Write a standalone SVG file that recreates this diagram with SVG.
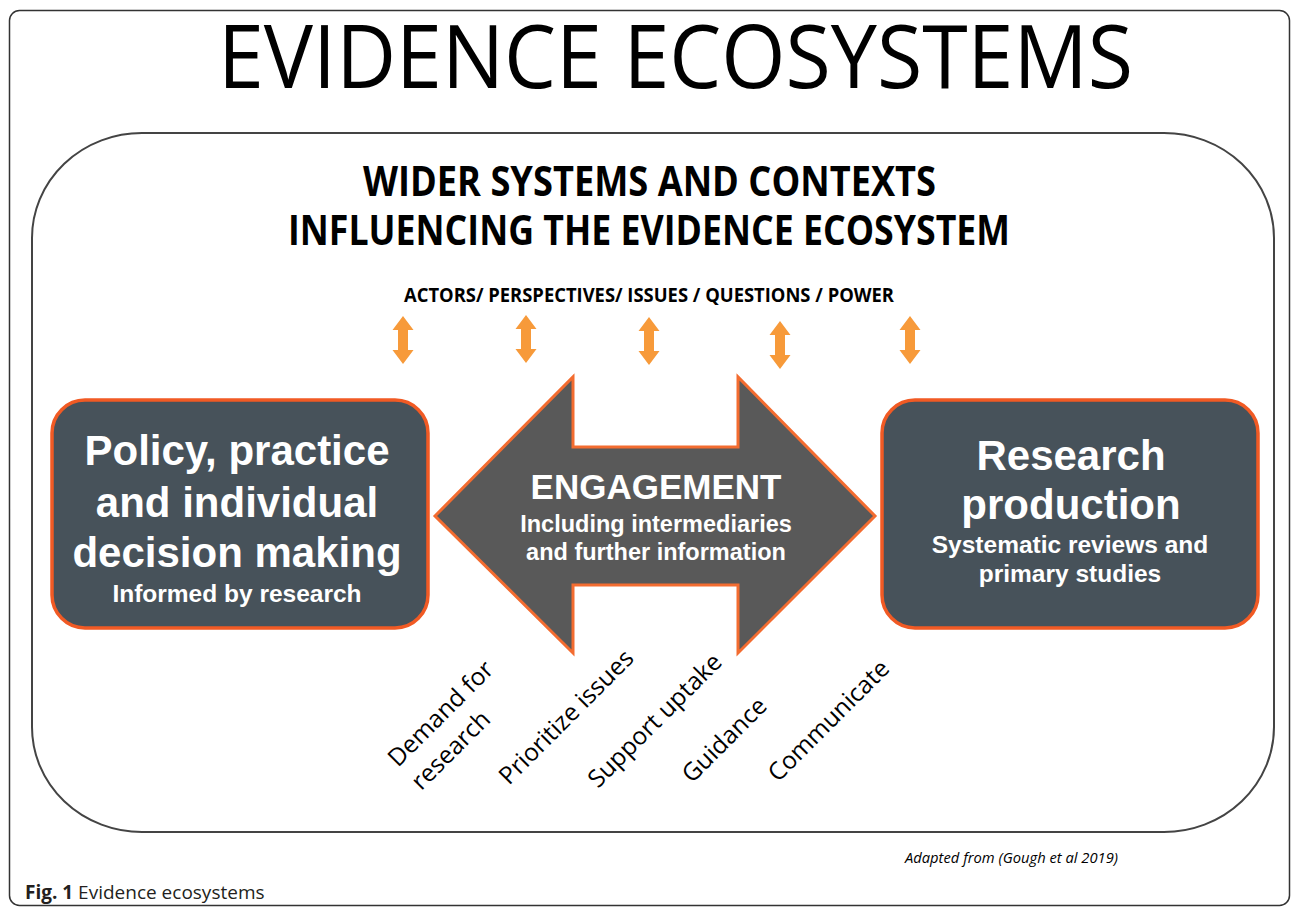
<svg xmlns="http://www.w3.org/2000/svg" width="1292" height="908" viewBox="0 0 1292 908">
  <style>
    .cal { font-family: "Open Sans", "Liberation Sans", sans-serif; fill: #000; }
    .arial { font-family: "Liberation Sans", Arial, sans-serif; font-weight: bold; fill: #fff; }
    .box { fill: #47525A; stroke: #F15A24; stroke-width: 3.5; }
    .lbl { font-family: "Open Sans", "Liberation Sans", sans-serif; font-size: 24.5px; fill: #000; }
    .oarrow { fill: #F79A3A; }
  </style>
  <defs>
    <path id="darrow" d="M0,0 L10.5,14 L5,14 L5,34 L10.5,34 L0,48 L-10.5,34 L-5,34 L-5,14 L-10.5,14 Z"/>
  </defs>

  <rect id="frame" x="9.5" y="10.5" width="1280" height="895" rx="10" ry="10" fill="#fff" stroke="#333" stroke-width="1.5"/>

  <text id="title" class="cal" x="675.5" y="88" font-size="88" text-anchor="middle" textLength="915" lengthAdjust="spacingAndGlyphs">EVIDENCE ECOSYSTEMS</text>

  <g id="context">
    <rect x="32" y="133" width="1242" height="699" rx="110" ry="105" fill="none" stroke="#444" stroke-width="2"/>
    <text class="cal" x="649.5" y="196" font-size="42" font-weight="bold" text-anchor="middle" textLength="573" lengthAdjust="spacingAndGlyphs">WIDER SYSTEMS AND CONTEXTS</text>
    <text class="cal" x="649" y="245" font-size="42" font-weight="bold" text-anchor="middle" textLength="722" lengthAdjust="spacingAndGlyphs">INFLUENCING THE EVIDENCE ECOSYSTEM</text>
    <text class="cal" x="649" y="302" font-size="19.5" font-weight="bold" text-anchor="middle" textLength="490" lengthAdjust="spacingAndGlyphs">ACTORS/ PERSPECTIVES/ ISSUES / QUESTIONS / POWER</text>
  </g>

  <g id="connectors">
    <use href="#darrow" class="oarrow" x="403" y="316"/>
    <use href="#darrow" class="oarrow" x="526" y="315"/>
    <use href="#darrow" class="oarrow" x="649" y="317"/>
    <use href="#darrow" class="oarrow" x="780" y="321"/>
    <use href="#darrow" class="oarrow" x="910" y="316"/>
  </g>

  <g id="policy">
    <rect class="box" x="52" y="400" width="376" height="228" rx="33" ry="33"/>
    <text class="arial" x="237" y="465" font-size="42" text-anchor="middle">Policy, practice</text>
    <text class="arial" x="237" y="517" font-size="42" text-anchor="middle">and individual</text>
    <text class="arial" x="237" y="567" font-size="42" text-anchor="middle">decision making</text>
    <text class="arial" x="237" y="602" font-size="24.5" text-anchor="middle">Informed by research</text>
  </g>

  <g id="engagement">
    <polygon points="435,516 573,377 573,447 738,447 738,377 875,516 738,653 738,585 573,585 573,653" fill="#595959" stroke="#F36C30" stroke-width="3" stroke-linejoin="miter"/>
    <text class="arial" x="656" y="499" font-size="35" text-anchor="middle">ENGAGEMENT</text>
    <text class="arial" x="656" y="532" font-size="23.5" text-anchor="middle">Including intermediaries</text>
    <text class="arial" x="656" y="560" font-size="23.5" text-anchor="middle">and further information</text>
  </g>

  <g id="research">
    <rect class="box" x="882" y="400" width="376" height="228" rx="33" ry="33"/>
    <text class="arial" x="1071" y="470" font-size="42" text-anchor="middle">Research</text>
    <text class="arial" x="1071" y="519" font-size="42" text-anchor="middle">production</text>
    <text class="arial" x="1070" y="553" font-size="24.5" text-anchor="middle">Systematic reviews and</text>
    <text class="arial" x="1070" y="582" font-size="24.5" text-anchor="middle">primary studies</text>
  </g>

  <g id="labels">
    <text class="lbl" transform="translate(398,768) rotate(-45)"><tspan x="0" y="0">Demand for</tspan><tspan x="0" dy="33">research</tspan></text>
    <text class="lbl" transform="translate(509,786) rotate(-45)">Prioritize issues</text>
    <text class="lbl" transform="translate(598,789) rotate(-45)">Support uptake</text>
    <text class="lbl" transform="translate(692,784) rotate(-45)">Guidance</text>
    <text class="lbl" transform="translate(778,783) rotate(-45)">Communicate</text>
  </g>

  <text id="source" class="cal" x="905" y="863" font-size="14.5" font-style="italic" textLength="213" lengthAdjust="spacingAndGlyphs">Adapted from (Gough et al 2019)</text>

  <text id="caption" x="25" y="899" font-family="'Open Sans', 'Liberation Sans', sans-serif" font-size="19" fill="#231F20"><tspan font-weight="bold">Fig. 1</tspan> Evidence ecosystems</text>
</svg>
